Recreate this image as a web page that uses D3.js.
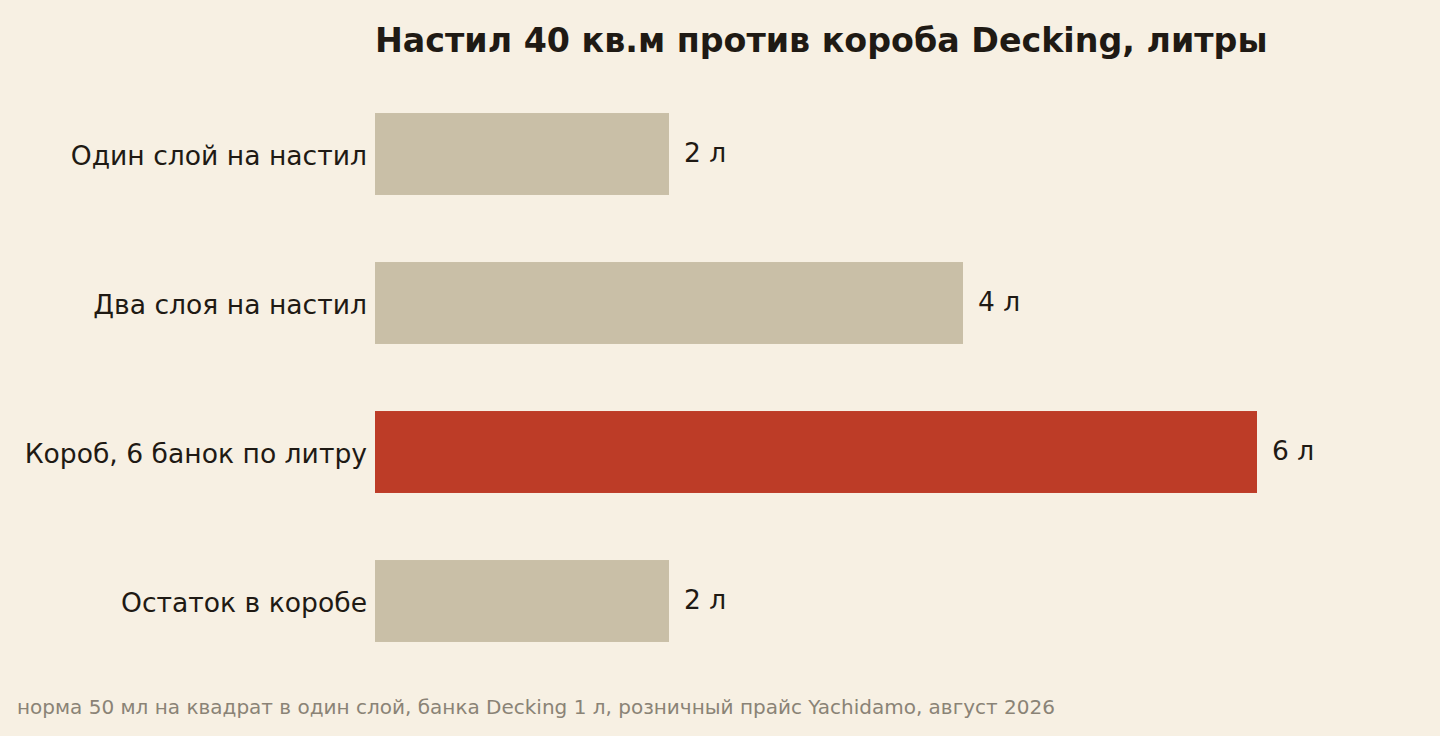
<!DOCTYPE html>
<html>
<head>
<meta charset="utf-8">
<script src="https://cdn.jsdelivr.net/npm/d3@7"></script>
<style>
  html, body { margin: 0; padding: 0; background: #f7f0e3; }
  svg { display: block; font-family: "DejaVu Sans", sans-serif; }
</style>
</head>
<body>
<div id="chart"></div>
<script>
const categories = ["Один слой на настил", "Два слоя на настил", "Короб, 6 банок по литру", "Остаток в коробе"];
const values = [2, 4, 6, 2];
const highlight = [false, false, true, false];
const valueLabels = ["2 л", "4 л", "6 л", "2 л"];

const title = "Настил 40 кв.м против короба Decking, литры";
const note = "норма 50 мл на квадрат в один слой, банка Decking 1 л, розничный прайс Yachidamo, август 2026";

const W = 1440, H = 736;
const margin = { top: 79.5, right: 183, bottom: 60.5, left: 375 };

const svg = d3.select("#chart").append("svg")
    .attr("width", W)
    .attr("height", H);

svg.append("rect").attr("width", W).attr("height", H).attr("fill", "#f7f0e3");

const x = d3.scaleLinear()
    .domain([0, 6])
    .range([margin.left, W - margin.right]);

const y = d3.scaleBand()
    .domain(categories)
    .range([margin.top, H - margin.bottom])
    .paddingInner(0.45)
    .paddingOuter(0.225);

const data = categories.map((c, i) => ({ cat: c, value: values[i], hl: highlight[i], label: valueLabels[i] }));

svg.selectAll("rect.bar")
    .data(data)
    .join("rect")
    .attr("class", "bar")
    .attr("x", x(0))
    .attr("y", d => y(d.cat))
    .attr("width", d => x(d.value) - x(0))
    .attr("height", y.bandwidth())
    .attr("fill", d => d.hl ? "#bd3c27" : "#c9bfa7");

// value labels
svg.selectAll("text.val")
    .data(data)
    .join("text")
    .attr("class", "val")
    .attr("x", d => x(d.value) + 15)
    .attr("y", d => y(d.cat) + y.bandwidth() / 2)
    .attr("dy", "0.3em")
    .attr("font-size", 26.5)
    .attr("fill", "#1f1a14")
    .text(d => d.label);

// category axis
const yAxis = svg.append("g")
    .attr("transform", `translate(${margin.left - 8},0)`)
    .call(d3.axisLeft(y).tickSize(0).tickPadding(0));
yAxis.select(".domain").remove();
yAxis.selectAll("text")
    .attr("font-family", "DejaVu Sans, sans-serif")
    .attr("font-size", 26.6)
    .attr("fill", "#1f1a14")
    .attr("dy", "0.4em");

svg.append("text")
    .attr("x", margin.left)
    .attr("y", 52)
    .attr("font-size", 33.3)
    .attr("font-weight", "bold")
    .attr("fill", "#1f1a14")
    .text(title);

svg.append("text")
    .attr("x", 17)
    .attr("y", 714)
    .attr("font-size", 20)
    .attr("fill", "#8a8376")
    .text(note);
</script>
</body>
</html>
